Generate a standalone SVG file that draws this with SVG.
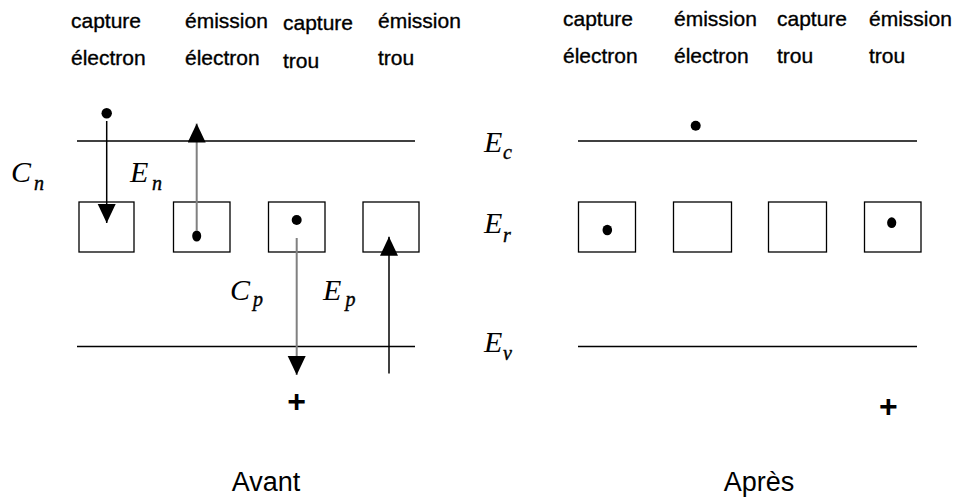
<svg xmlns="http://www.w3.org/2000/svg" width="956" height="499" viewBox="0 0 956 499">
<style>
.lbl{font-family:"Liberation Sans",Arial,sans-serif;font-size:21px;fill:#000;stroke:#000;stroke-width:0.35}
.ttl{font-family:"Liberation Sans",Arial,sans-serif;font-size:27px;fill:#000;text-anchor:middle}
.plus{font-family:"Liberation Sans",Arial,sans-serif;font-size:32px;font-weight:bold;fill:#000;text-anchor:middle}
.m{font-family:"Liberation Serif","Times New Roman",serif;font-style:italic;font-size:30px;fill:#000}
.s{font-family:"Liberation Serif","Times New Roman",serif;font-style:italic;font-size:20px;fill:#000;stroke:#000;stroke-width:0.4}
.band{stroke:#000;stroke-width:1.5;fill:none}
.trap{stroke:#000;stroke-width:1.3;fill:#fff}
.arr{stroke:#000;stroke-width:1.5;fill:none;marker-end:url(#ah)}
.arrg{stroke:#808080;stroke-width:2;fill:none;marker-end:url(#ah)}
.dot{fill:#000}
</style>
<defs>
<marker id="ah" markerUnits="userSpaceOnUse" markerWidth="19" markerHeight="19" refX="19" refY="9" orient="auto">
<path d="M0,0 L19,9 L0,18 z" fill="#000"/>
</marker>
</defs>
<rect width="956" height="499" fill="#fff"/>

<g id="labels-left">
<text class="lbl" x="71" y="28">capture</text>
<text class="lbl" x="71" y="65">électron</text>
<text class="lbl" x="185" y="28">émission</text>
<text class="lbl" x="185" y="65">électron</text>
<text class="lbl" x="283" y="30">capture</text>
<text class="lbl" x="283" y="68">trou</text>
<text class="lbl" x="378" y="28">émission</text>
<text class="lbl" x="378" y="65">trou</text>
</g>
<g id="labels-right">
<text class="lbl" x="563" y="26">capture</text>
<text class="lbl" x="563" y="63">électron</text>
<text class="lbl" x="674" y="26">émission</text>
<text class="lbl" x="674" y="63">électron</text>
<text class="lbl" x="777" y="26">capture</text>
<text class="lbl" x="777" y="63">trou</text>
<text class="lbl" x="869" y="26">émission</text>
<text class="lbl" x="869" y="63">trou</text>
</g>

<g id="bands">
<line class="band" x1="77" y1="141" x2="415" y2="141"/>
<line class="band" x1="77" y1="346.5" x2="415" y2="346.5"/>
<line class="band" x1="578" y1="141" x2="917" y2="141"/>
<line class="band" x1="578" y1="346.5" x2="917" y2="346.5"/>
</g>

<g id="energy-labels">
<text class="m" x="484" y="152">E<tspan class="s" x="503" y="159">c</tspan></text>
<text class="m" x="484" y="233">E<tspan class="s" x="503" y="241.5">r</tspan></text>
<text class="m" x="484" y="352">E<tspan class="s" x="503" y="360">v</tspan></text>
</g>

<g id="trap-l1"><rect class="trap" x="79" y="202" width="55" height="50"/></g>
<g id="trap-l2"><rect class="trap" x="173.5" y="202" width="56.5" height="50"/><ellipse class="dot" cx="196.7" cy="236" rx="4.5" ry="5.5"/></g>
<g id="trap-l3"><rect class="trap" x="268.5" y="202" width="56.5" height="50"/><circle class="dot" cx="296.7" cy="220" r="5"/></g>
<g id="trap-l4"><rect class="trap" x="363" y="202" width="56" height="50"/></g>

<g id="trap-r1"><rect class="trap" x="578.5" y="202" width="57" height="50"/><ellipse class="dot" cx="607.3" cy="230" rx="4.8" ry="5.2"/></g>
<g id="trap-r2"><rect class="trap" x="673.5" y="202" width="58" height="50"/></g>
<g id="trap-r3"><rect class="trap" x="768.5" y="202" width="58" height="50"/></g>
<g id="trap-r4"><rect class="trap" x="864.5" y="202" width="56.5" height="50"/><ellipse class="dot" cx="891.7" cy="222.7" rx="4.6" ry="5.4"/></g>

<g id="carriers">
<circle class="dot" cx="106.7" cy="113.3" r="5.2"/>
<circle class="dot" cx="695.7" cy="125.7" r="5"/>
<text class="plus" x="296.7" y="412">+</text>
<text class="plus" x="888.3" y="417">+</text>
</g>

<g id="connectors">
<line class="arr" x1="106.7" y1="121" x2="106.7" y2="223"/>
<line class="arrg" x1="196.7" y1="231" x2="196.7" y2="123.5"/>
<line class="arrg" x1="296.7" y1="238" x2="296.7" y2="375"/>
<line class="arr" x1="389" y1="373.5" x2="389" y2="236.7"/>
</g>

<g id="rate-labels">
<text class="m" x="11" y="182">C<tspan class="s" x="34" y="190">n</tspan></text>
<text class="m" x="130" y="182">E<tspan class="s" x="152" y="190">n</tspan></text>
<text class="m" x="230" y="299.5">C<tspan class="s" x="253" y="306">p</tspan></text>
<text class="m" x="323" y="299.5">E<tspan class="s" x="345.5" y="306">p</tspan></text>
</g>

<g id="titles">
<text class="ttl" x="266" y="491">Avant</text>
<text class="ttl" x="759" y="491">Après</text>
</g>
</svg>
